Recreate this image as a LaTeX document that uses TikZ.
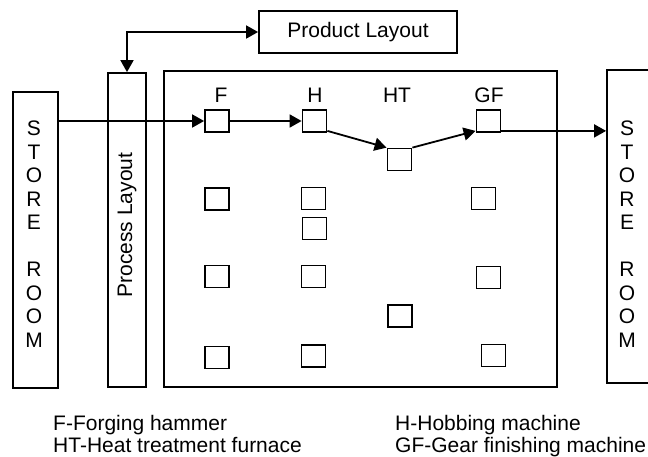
\documentclass[tikz,border=0pt]{standalone}
\usepackage{fontspec}
\setmainfont{Liberation Sans}
\usetikzlibrary{arrows.meta,calc}
\begin{document}
\begin{tikzpicture}[x=1pt,y=-1pt,
  every node/.style={font=\fontsize{21}{23.5}\selectfont},
  ln/.style={line width=1.8pt},
  box/.style={ln,draw,inner sep=0pt},
  sq/.style={box,minimum width=24pt,minimum height=22pt},
  arr/.style={ln,-{Triangle[length=12pt,width=13pt]}},
  darr/.style={ln,{Triangle[length=12pt,width=13pt]}-{Triangle[length=12pt,width=13pt]}},
  lbl/.style={inner sep=0pt},
  legend/.style={inner sep=0pt,anchor=base west}]
\useasboundingbox (0,0) rectangle (648,456);
\clip (0,0) rectangle (648,456);
\fill[white] (0,0) rectangle (648,456);
% big boxes
\node[box,minimum width=45pt,minimum height=296pt] (sl) at (35.5,240) {};
\node[lbl,align=center] (slt) at (34,234) {S\\T\\O\\R\\E\\\mbox{}\\R\\O\\O\\M};
\node[box,minimum width=38pt,minimum height=314pt] (proc) at (127,230) {};
\node[lbl,rotate=90] (proct) at (127,225) {Process Layout};
\node[box,minimum width=393pt,minimum height=316pt] (main) at (360.5,229) {};
\node[box,minimum width=198pt,minimum height=42pt] (prod) at (358,32) {Product Layout};
\node[box,minimum width=56pt,minimum height=313pt] (sr) at (635,226.5) {};
\node[lbl,align=center] (srt) at (627,234) {S\\T\\O\\R\\E\\\mbox{}\\R\\O\\O\\M};
% machines
\node[sq] (F) at (217,121) {};
\node[sq] (H) at (314.5,121) {};
\node[sq] (HT) at (399.5,159.5) {};
\node[sq] (GF) at (488.5,121) {};
\node[sq] (s1) at (217,199) {};
\node[sq] (s2) at (313.5,198.5) {};
\node[sq] (s3) at (483.5,198.5) {};
\node[sq] (s4) at (314.5,228.5) {};
\node[sq] (s5) at (217,276.5) {};
\node[sq] (s6) at (313.5,276.5) {};
\node[sq] (s7) at (488.5,277.5) {};
\node[sq] (s8) at (400,316) {};
\node[sq] (s9) at (217,357.5) {};
\node[sq] (s10) at (313.5,356) {};
\node[sq] (s11) at (493.5,355.5) {};
% labels
\node[lbl] (lF) at (221,95) {F};
\node[lbl] (lH) at (315,95) {H};
\node[lbl] (lHT) at (397,95) {HT};
\node[lbl] (lGF) at (489,95) {GF};
% connectors
\draw[darr] (prod.west) -| (proc.north);
\draw[arr] (sl.east |- F) -- (F.west);
\draw[arr] (F.east) -- (H.west);
\coordinate (hout) at ($(H.south east)+(0,-2)$);
\coordinate (gfin) at ($(GF.south west)+(0,-2)$);
\coordinate (gfout) at ($(GF.south east)+(0,-2)$);
\draw[arr] (hout) -- (HT.north west);
\draw[arr] (HT.north east) -- (gfin);
\draw[arr] (gfout) -- (sr.west |- gfout);
% legend
\node[legend] (l1) at (53,430) {F-Forging hammer};
\node[legend] (l2) at (53,452) {HT-Heat treatment furnace};
\node[legend] (l3) at (395,430) {H-Hobbing machine};
\node[legend] (l4) at (395,452) {GF-Gear finishing machine};
\end{tikzpicture}
\end{document}
